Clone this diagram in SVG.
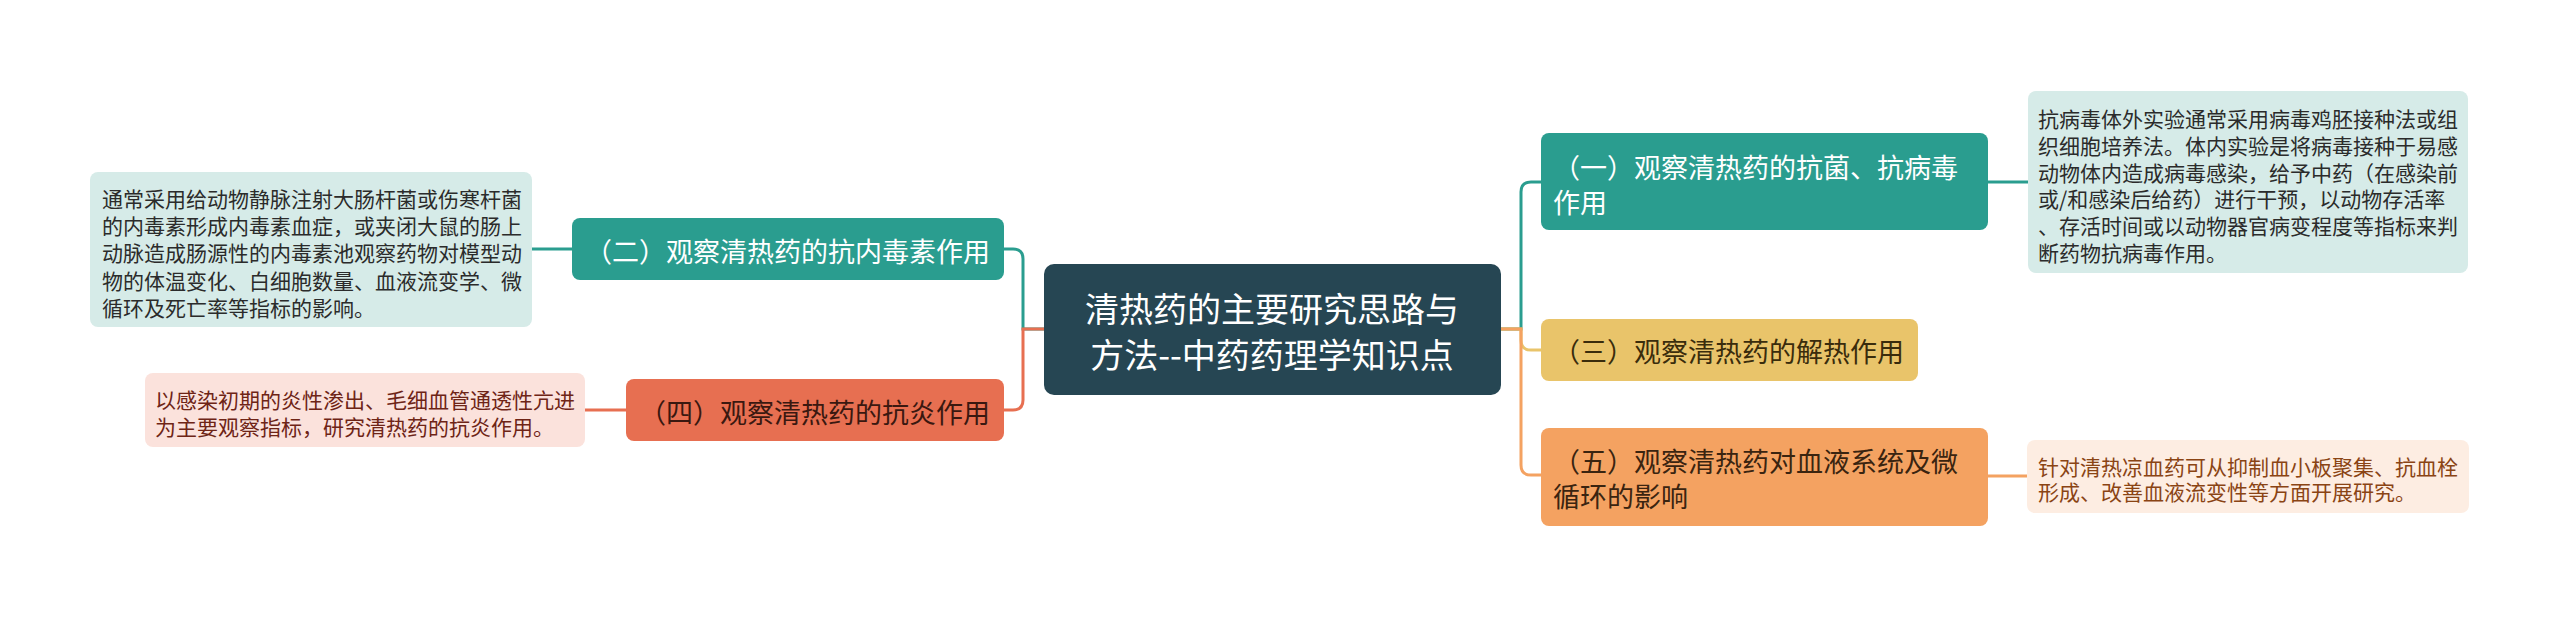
<svg xmlns="http://www.w3.org/2000/svg" width="2560" height="617" viewBox="0 0 2560 617">
<style>
text{font-family:"Noto Sans CJK SC","Liberation Sans",sans-serif;dominant-baseline:central}
.c{fill:none;stroke-width:3;stroke-linecap:round}
.t1{font-size:27px}
.t2{font-size:21px}
.root{font-size:34px;fill:#ffffff}
</style>
<rect width="2560" height="617" fill="#ffffff"/>
<g id="connectors">
<path class="c" stroke="#2a9d8f" d="M1044,329 H1023 V259 Q1023,249 1013,249 H1004"/>
<path class="c" stroke="#e76f51" d="M1044,329 H1023 V400 Q1023,410 1013,410 H1004"/>
<path class="c" stroke="#2a9d8f" d="M1501,329 H1521 V192 Q1521,182 1531,182 H1541"/>
<path class="c" stroke="#e9c46a" d="M1501,329 H1521 V340 Q1521,350 1531,350 H1541"/>
<path class="c" stroke="#f4a261" d="M1501,329 H1521 V465 Q1521,475 1531,475 H1541"/>
<path class="c" stroke="#2a9d8f" d="M572,249 H532"/>
<path class="c" stroke="#e76f51" d="M626,410 H585"/>
<path class="c" stroke="#2a9d8f" d="M1988,182 H2028"/>
<path class="c" stroke="#f4a261" d="M1988,476 H2027"/>
</g>
<g id="root">
<rect x="1044" y="264" width="457" height="131" rx="10" fill="#264653"/>
<text class="root" x="1272" y="307" text-anchor="middle">清热药的主要研究思路与</text>
<text class="root" x="1272" y="353" text-anchor="middle">方法--中药药理学知识点</text>
</g>
<g id="n2">
<rect x="572" y="218" width="432" height="62" rx="8" fill="#2a9d8f"/>
<text class="t1" x="990" y="250" text-anchor="end" fill="#ffffff">（二）观察清热药的抗内毒素作用</text>
</g>
<g id="n2-detail">
<rect x="90" y="172" width="442" height="155" rx="8" fill="#d6ebe8"/>
<g class="t2" fill="#2b2b2b">
<text x="102" y="198">通常采用给动物静脉注射大肠杆菌或伤寒杆菌</text>
<text x="102" y="225">的内毒素形成内毒素血症，或夹闭大鼠的肠上</text>
<text x="102" y="252">动脉造成肠源性的内毒素池观察药物对模型动</text>
<text x="102" y="280">物的体温变化、白细胞数量、血液流变学、微</text>
<text x="102" y="307">循环及死亡率等指标的影响。</text>
</g>
</g>
<g id="n4">
<rect x="626" y="379" width="378" height="62" rx="8" fill="#e76f51"/>
<text class="t1" x="990" y="411" text-anchor="end" fill="#3a1810">（四）观察清热药的抗炎作用</text>
</g>
<g id="n4-detail">
<rect x="145" y="373" width="440" height="74" rx="8" fill="#fbe2dc"/>
<g class="t2" fill="#6e2416">
<text x="155" y="399">以感染初期的炎性渗出、毛细血管通透性亢进</text>
<text x="155" y="426">为主要观察指标，研究清热药的抗炎作用。</text>
</g>
</g>
<g id="n1">
<rect x="1541" y="133" width="447" height="97" rx="8" fill="#2a9d8f"/>
<text class="t1" x="1553" y="166" fill="#ffffff">（一）观察清热药的抗菌、抗病毒</text>
<text class="t1" x="1553" y="201" fill="#ffffff">作用</text>
</g>
<g id="n1-detail">
<rect x="2028" y="91" width="440" height="182" rx="8" fill="#d6ebe8"/>
<g class="t2" fill="#2b2b2b">
<text x="2038" y="118">抗病毒体外实验通常采用病毒鸡胚接种法或组</text>
<text x="2038" y="145">织细胞培养法。体内实验是将病毒接种于易感</text>
<text x="2038" y="172">动物体内造成病毒感染，给予中药（在感染前</text>
<text x="2038" y="198">或/和感染后给药）进行干预，以动物存活率</text>
<text x="2038" y="225">、存活时间或以动物器官病变程度等指标来判</text>
<text x="2038" y="252">断药物抗病毒作用。</text>
</g>
</g>
<g id="n3">
<rect x="1541" y="319" width="377" height="62" rx="8" fill="#e9c46a"/>
<text class="t1" x="1553" y="350" fill="#3a2c0c">（三）观察清热药的解热作用</text>
</g>
<g id="n5">
<rect x="1541" y="428" width="447" height="98" rx="8" fill="#f4a261"/>
<text class="t1" x="1553" y="460" fill="#3a2410">（五）观察清热药对血液系统及微</text>
<text class="t1" x="1553" y="495" fill="#3a2410">循环的影响</text>
</g>
<g id="n5-detail">
<rect x="2027" y="440" width="442" height="73" rx="8" fill="#fdede2"/>
<g class="t2" fill="#8a4414">
<text x="2038" y="466">针对清热凉血药可从抑制血小板聚集、抗血栓</text>
<text x="2038" y="491">形成、改善血液流变性等方面开展研究。</text>
</g>
</g>
</svg>
